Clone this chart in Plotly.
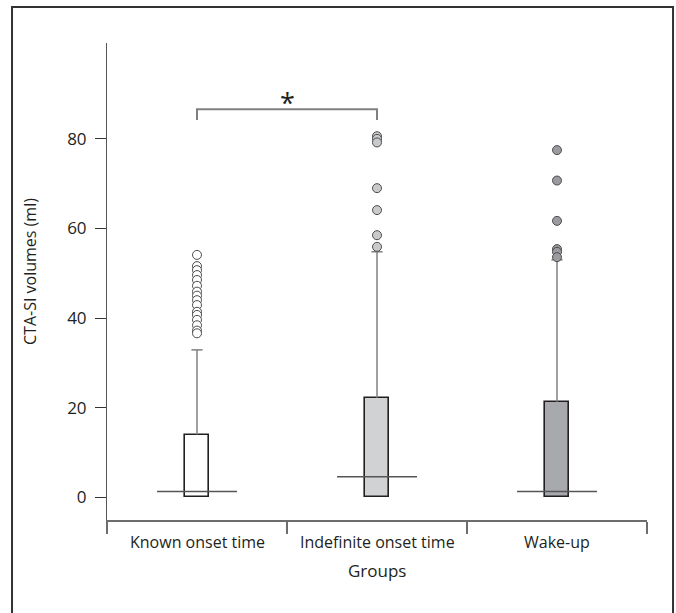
import plotly.graph_objects as go

# ---- data ----
categories = ["Known onset time", "Indefinite onset time", "Wake-up"]
q1 = [0.0, 0.0, 0.0]
median = [1.3, 4.6, 1.3]
q3 = [14.0, 22.2, 21.3]
upper_whisker = [32.9, 54.8, 53.0]
outliers_known = [54.1, 51.6, 50.7, 49.6, 48.5, 47.2, 45.9, 45.0, 44.0, 42.9, 41.4, 40.7, 39.6, 38.4, 37.2, 36.6]
outliers_indef = [80.6, 80.0, 79.2, 69.0, 64.1, 58.5, 55.9]
outliers_wake = [77.5, 70.7, 61.7, 55.4, 54.8, 53.6]
outliers = [outliers_known, outliers_indef, outliers_wake]
y_ticks = [0, 20, 40, 60, 80]
bracket_low, bracket_high = 84.2, 86.6
sig_y = 89.4
sig_label = "*"

box_fill = ["#ffffff", "#d1d2d4", "#a7a9ac"]
dot_fill = ["#ffffff", "#c9cacc", "#9a9b9e"]

FONT = "Open Sans"
TXT = "#231f20"

fig = go.Figure()
xs = list(range(len(categories)))
box_w = 0.128
med_half = 0.222
cap_half = 0.031

# boxes
fig.add_trace(go.Bar(
    x=xs, y=[b - a for a, b in zip(q1, q3)], base=q1, width=box_w,
    marker=dict(color=box_fill, line=dict(color="#231f20", width=1.6)),
    showlegend=False, hoverinfo="skip"))

for i in xs:
    fig.add_trace(go.Scatter(x=[i, i], y=[q3[i], upper_whisker[i]], mode="lines",
                             line=dict(color="#808080", width=1.5), showlegend=False, hoverinfo="skip"))
    fig.add_trace(go.Scatter(x=[i - cap_half, i + cap_half], y=[upper_whisker[i]] * 2, mode="lines",
                             line=dict(color="#808080", width=1.5), showlegend=False, hoverinfo="skip"))
    fig.add_trace(go.Scatter(x=[i - med_half, i + med_half], y=[median[i]] * 2, mode="lines",
                             line=dict(color="#555555", width=1.5), showlegend=False, hoverinfo="skip"))
    fig.add_trace(go.Scatter(x=[i] * len(outliers[i]), y=outliers[i], mode="markers",
                             marker=dict(size=9, color=dot_fill[i], line=dict(color="#4d4d4d", width=1)),
                             showlegend=False, hoverinfo="skip"))

# significance bracket
fig.add_trace(go.Scatter(x=[0, 0, 1, 1], y=[bracket_low, bracket_high, bracket_high, bracket_low],
                         mode="lines", line=dict(color="#808080", width=2),
                         showlegend=False, hoverinfo="skip"))
fig.add_annotation(x=0.5, y=sig_y, yshift=-6, text=sig_label, showarrow=False,
                   xref="x", yref="y", yanchor="middle", font=dict(family=FONT, size=27, color=TXT))

# category labels
for i, c in enumerate(categories):
    fig.add_annotation(x=i, y=-0.0455, xref="x", yref="paper", text=c, showarrow=False,
                       yanchor="middle", font=dict(family=FONT, size=16, color=TXT))
fig.add_annotation(x=1, y=-0.106, xref="x", yref="paper", text="Groups", showarrow=False,
                   yanchor="middle", font=dict(family=FONT, size=17, color=TXT))
fig.add_annotation(x=-0.1426, y=0.522, xref="paper", yref="paper", text="CTA-SI volumes (ml)",
                   textangle=-90, showarrow=False, xanchor="center", yanchor="middle",
                   font=dict(family=FONT, size=16, color=TXT))

# outer frame
fig.add_shape(type="rect", xref="paper", yref="paper", x0=-0.1759, x1=1.0482, y0=-0.25, y1=1.0755,
              line=dict(color="#333333", width=2))

fig.update_layout(
    width=676, height=613,
    margin=dict(l=107, r=29, t=43, b=93),
    paper_bgcolor="white", plot_bgcolor="white",
    font=dict(family=FONT, color=TXT),
    bargap=0,
)
fig.update_xaxes(
    range=[-0.5, 2.5], tickvals=[-0.5, 0.5, 1.5, 2.5], ticktext=["", "", "", ""],
    ticks="outside", ticklen=12, tickwidth=1.5, tickcolor="#6d6d6d",
    showline=True, linecolor="#6d6d6d", linewidth=2, showgrid=False, zeroline=False)
fig.update_yaxes(
    range=[-5.07, 101.4], tickvals=y_ticks, ticks="outside", ticklen=11, tickwidth=1,
    tickcolor="#333333", showline=True, linecolor="#555555", linewidth=1,
    showgrid=False, zeroline=False, tickfont=dict(family=FONT, size=17, color=TXT),
    ticklabelstandoff=5)

fig.write_html("out.html", config={"displayModeBar": False},
               post_script="document.body.style.margin='0px';")
